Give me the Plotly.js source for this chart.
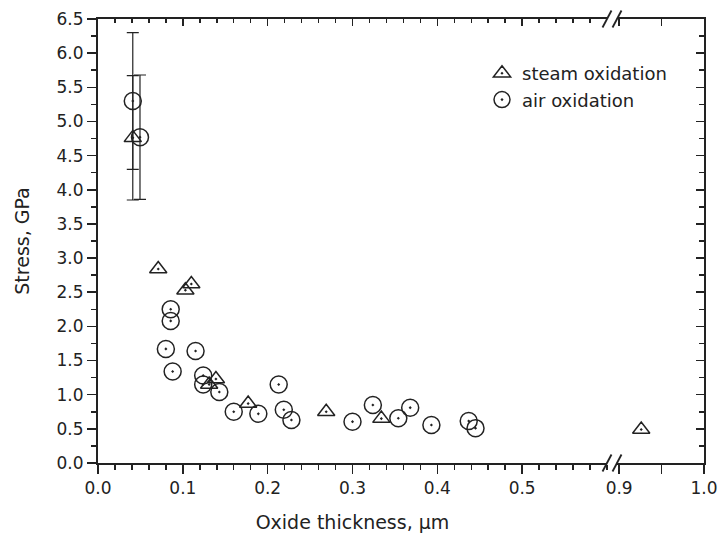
<!DOCTYPE html>
<html>
<head>
<meta charset="utf-8">
<script src="https://cdn.plot.ly/plotly-3.0.1.min.js"></script>
<style>html,body{margin:0;padding:0;background:#fff;}#chart{width:722px;height:548px;}</style>
</head>
<body>
<div id="chart"></div>
<script>
// ---- data ----
const steamX = [0.041, 0.071, 0.103, 0.110, 0.131, 0.139, 0.177, 0.269, 0.334, 0.926];
const steamY = [4.76, 2.84, 2.53, 2.62, 1.15, 1.23, 0.87, 0.75, 0.65, 0.49];
const steamErr = [0.91, NaN, NaN, NaN, NaN, NaN, NaN, NaN, NaN, NaN];

const airX = [0.041, 0.0495, 0.0857, 0.0857, 0.080, 0.115, 0.088, 0.124, 0.124, 0.143, 0.160, 0.189, 0.213, 0.219, 0.228, 0.300, 0.324, 0.354, 0.368, 0.393, 0.437, 0.445];
const airY = [5.30, 4.77, 2.25, 2.08, 1.67, 1.64, 1.34, 1.28, 1.15, 1.04, 0.75, 0.72, 1.15, 0.78, 0.63, 0.605, 0.85, 0.655, 0.81, 0.556, 0.615, 0.51];
const airErr = [1.0, 0.91, NaN, NaN, NaN, NaN, NaN, NaN, NaN, NaN, NaN, NaN, NaN, NaN, NaN, NaN, NaN, NaN, NaN, NaN, NaN, NaN];

const seriesNames = ['steam oxidation', 'air oxidation'];
const yTickVals = [0, 0.5, 1, 1.5, 2, 2.5, 3, 3.5, 4, 4.5, 5, 5.5, 6, 6.5];
const xTickVals = [0, 0.1, 0.2, 0.3, 0.4, 0.5];
const x2TickVals = [0.9, 0.95, 1.0];
const x2TickText = ['0.9', '', '1.0'];
const breakAt = 0.6;

// ---- layout geometry ----
const W = 722, H = 548;
const M = {l: 98, r: 18, t: 19, b: 85};
const PW = W - M.l - M.r, PH = H - M.t - M.b;
const px = p => (p - M.l) / PW;
const py = p => (H - M.b - p) / PH;
const gapL = 607, gapR = 617;
const scale = (gapL - M.l) / breakAt; // px per unit
const x2Start = 1.0 - (W - M.r - gapR) / scale;

const ink = '#222';
const FONT = 'DejaVu Sans, Arial, sans-serif';

function split(xs, ys, es, right) {
  const X = [], Y = [], E = [];
  xs.forEach((x, i) => { if ((x > breakAt) === right) { X.push(x); Y.push(ys[i]); E.push(es[i]); } });
  return {X, Y, E};
}

const steamL = split(steamX, steamY, steamErr, false);
const steamR = split(steamX, steamY, steamErr, true);
const airL = split(airX, airY, airErr, false);

const triMarker = {symbol: 'triangle-up-open-dot', size: 15, color: ink, line: {color: ink, width: 1.5}};
const cirMarker = {symbol: 'circle-open-dot', size: 17, color: ink, line: {color: ink, width: 1.5}};
const errStyle = arr => ({type: 'data', array: arr, visible: true, color: ink, thickness: 1.2, width: 6});

const traces = [
  {type: 'scatter', mode: 'markers', name: seriesNames[0], x: steamL.X, y: steamL.Y, error_y: errStyle(steamL.E), marker: triMarker, xaxis: 'x', yaxis: 'y'},
  {type: 'scatter', mode: 'markers', name: seriesNames[1], x: airL.X, y: airL.Y, error_y: errStyle(airL.E), marker: cirMarker, xaxis: 'x', yaxis: 'y'},
  {type: 'scatter', mode: 'markers', name: seriesNames[0], x: steamR.X, y: steamR.Y, marker: triMarker, xaxis: 'x2', yaxis: 'y', showlegend: false}
];

const tickFont = {family: FONT, size: 17, color: ink};
const baseAx = {showline: true, linecolor: ink, linewidth: 2, showgrid: false, zeroline: false, tickcolor: ink, tickwidth: 1.5, tickfont: tickFont, fixedrange: true};

const dL = [0, px(gapL)], dR = [px(gapR), 1];

const layout = {
  width: W, height: H,
  margin: M,
  paper_bgcolor: '#fff', plot_bgcolor: '#fff',
  showlegend: true,
  legend: {x: px(482), y: py(55), xanchor: 'left', yanchor: 'top', bgcolor: 'rgba(0,0,0,0)', font: {family: FONT, size: 18, color: ink}, tracegroupgap: 0},
  xaxis: Object.assign({}, baseAx, {domain: dL, range: [0, breakAt], anchor: 'y', ticks: 'outside', ticklen: 9, tickmode: 'array', tickvals: xTickVals, tickformat: '.1f',
    minor: {dtick: 0.02, tick0: 0, ticks: 'outside', ticklen: 5, tickwidth: 1.5, tickcolor: ink},
    title: {text: 'Oxide thickness, µm', font: {family: FONT, size: 19, color: ink}, standoff: 18}}),
  xaxis2: Object.assign({}, baseAx, {domain: dR, range: [x2Start, 1.0], anchor: 'y', ticks: 'outside', ticklen: 9, tickmode: 'array', tickvals: x2TickVals, ticktext: x2TickText}),
  xaxis3: Object.assign({}, baseAx, {overlaying: 'x', side: 'top', anchor: 'y', range: [0, breakAt], ticks: 'inside', ticklen: 7, tickmode: 'array', tickvals: xTickVals, showticklabels: false,
    minor: {dtick: 0.02, tick0: 0, ticks: 'inside', ticklen: 4, tickwidth: 1.5, tickcolor: ink}}),
  xaxis4: Object.assign({}, baseAx, {overlaying: 'x2', side: 'top', anchor: 'y', range: [x2Start, 1.0], ticks: 'inside', ticklen: 7, tickmode: 'array', tickvals: x2TickVals, showticklabels: false}),
  yaxis: Object.assign({}, baseAx, {domain: [0, 1], range: [0, 6.5], anchor: 'x', ticks: 'outside', ticklen: 9, tickmode: 'array', tickvals: yTickVals, tickformat: '.1f',
    minor: {dtick: 0.25, ticks: 'outside', ticklen: 5, tickwidth: 1.5, tickcolor: ink},
    title: {text: 'Stress, GPa', font: {family: FONT, size: 19, color: ink}, standoff: 22}}),
  yaxis2: Object.assign({}, baseAx, {overlaying: 'y', side: 'right', anchor: 'x2', range: [0, 6.5], ticks: 'inside', ticklen: 8, tickmode: 'array', tickvals: yTickVals, showticklabels: false,
    minor: {dtick: 0.25, ticks: 'inside', ticklen: 5, tickwidth: 1.5, tickcolor: ink}}),
  shapes: []
};

// break marks "//" on bottom and top axes
[H - M.b, M.t].forEach(yy => {
  [gapL, gapR].forEach(xx => {
    layout.shapes.push({type: 'line', xref: 'paper', yref: 'paper',
      x0: px(xx - 4.5), y0: py(yy + 8.5), x1: px(xx + 4.5), y1: py(yy - 8.5),
      line: {color: ink, width: 1.8}});
  });
});

traces.push({type: 'scatter', mode: 'markers', x: [], y: [], xaxis: 'x2', yaxis: 'y2', showlegend: false, hoverinfo: 'skip'});
traces.push({type: 'scatter', mode: 'markers', x: [], y: [], xaxis: 'x3', yaxis: 'y', showlegend: false, hoverinfo: 'skip'});
traces.push({type: 'scatter', mode: 'markers', x: [], y: [], xaxis: 'x4', yaxis: 'y', showlegend: false, hoverinfo: 'skip'});

Plotly.newPlot('chart', traces, layout, {staticPlot: true, displayModeBar: false});
</script>
</body>
</html>
